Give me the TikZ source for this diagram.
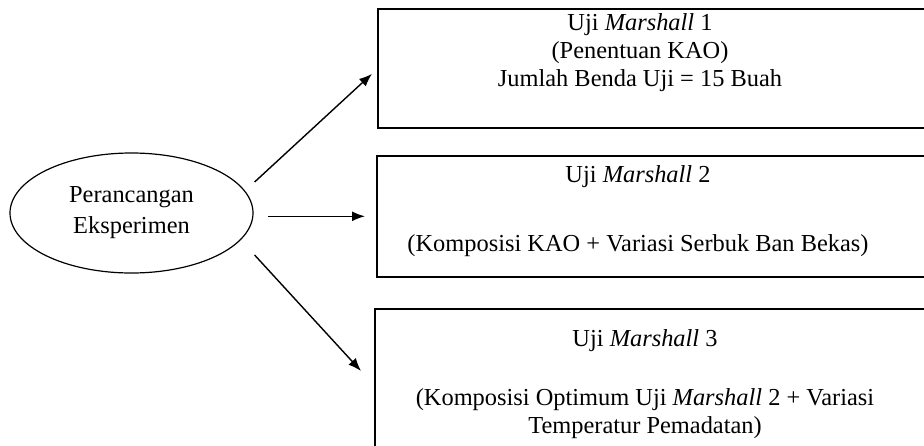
\documentclass[tikz,border=0pt]{standalone}
\usepackage{fontspec}
\setmainfont{Liberation Serif}
\usetikzlibrary{calc}
\usetikzlibrary{shapes.geometric}
\usetikzlibrary{arrows.meta}

\begin{document}
\begin{tikzpicture}[x=1pt,y=1pt,
  txt/.style={align=center,inner sep=0pt,font=\fontsize{24.4}{28}\selectfont},
  kotak/.style={draw,line width=1.6pt,rectangle,anchor=north west,minimum width=590,inner sep=0pt},
  panah/.style={line width=1.4pt,-{Latex[length=13pt,width=10pt]}}]
\useasboundingbox (0,0) rectangle (924,-445);
\clip (0,0) rectangle (924,-445);
\node[draw,ellipse,line width=1.2pt,minimum width=243,minimum height=120,inner sep=0pt] (rancang) at (131.5,-213) {};
\node[txt,font=\fontsize{24.4}{31}\selectfont] (trancang) at (rancang.center) {Perancangan\\Eksperimen};
\node[kotak,minimum height=119] (uji1) at (377,-8) {};
\node[kotak,minimum height=121] (uji2) at (376,-155) {};
\node[kotak,minimum height=170] (uji3) at (374,-308) {};
\node[txt] (tuji1) at (640,-53) {Uji \textit{Marshall} 1\\(Penentuan KAO)\\Jumlah Benda Uji = 15 Buah};
\node[txt] (tuji2) at (638,-211) {Uji \textit{Marshall} 2\\[41pt](Komposisi KAO + Variasi Serbuk Ban Bekas)};
\node[txt] (tuji3) at (645,-384) {Uji \textit{Marshall} 3\\[31pt](Komposisi Optimum Uji \textit{Marshall} 2 + Variasi\\Temperatur Pemadatan)};
\draw[panah] ($(rancang.east)+(1,31)$) -- ($(uji1.west)+(-5,-5.5)$);
\draw[panah] ([xshift=14pt]rancang.east |- uji2.west) -- ([xshift=-11pt]uji2.west);
\draw[panah] ($(rancang.east)+(1,-42)$) -- ($(uji3.north west)+(-13,-63)$);
\end{tikzpicture}
\end{document}
